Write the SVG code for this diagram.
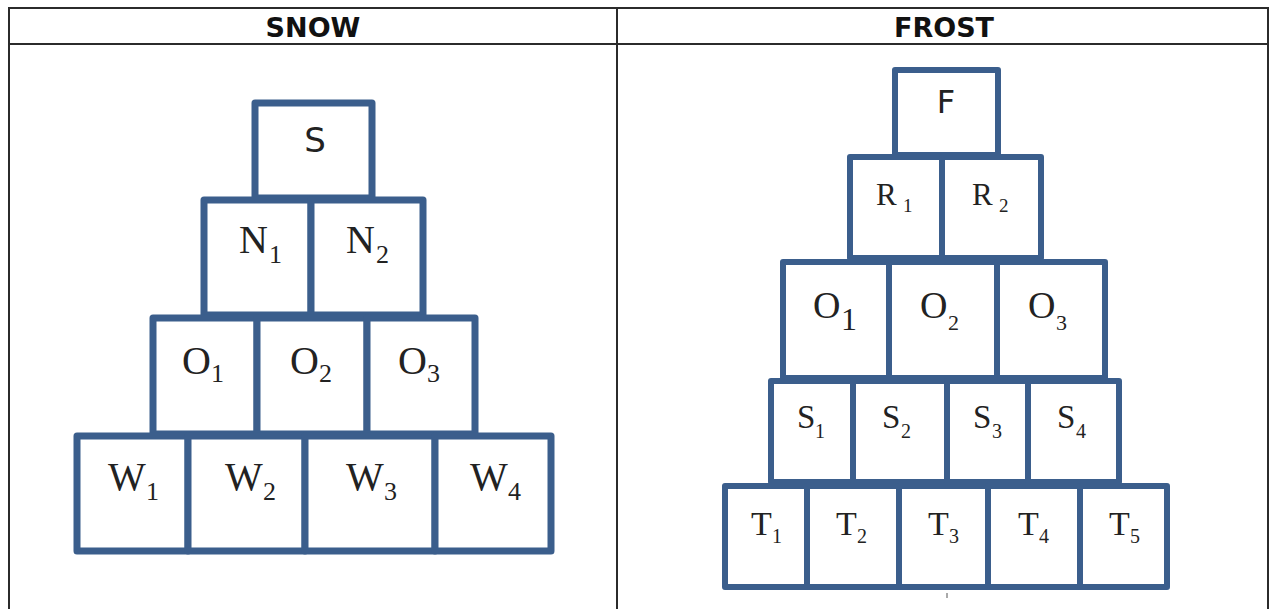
<svg xmlns="http://www.w3.org/2000/svg" width="1269" height="609" viewBox="0 0 1269 609">
<style>
.grid{stroke:#2b2b2b;stroke-width:2;fill:none}
.hdr{font-family:"DejaVu Sans",Verdana,sans-serif;font-weight:bold;font-size:27px;fill:#111;text-anchor:middle}
.bl rect{fill:#fff;stroke:#3b5e8c;stroke-width:7;stroke-linejoin:round}
.br rect{fill:#fff;stroke:#3b5e8c;stroke-width:6;stroke-linejoin:round}
.sans{font-family:"DejaVu Sans",Verdana,sans-serif;fill:#222;text-anchor:middle}
.ser{font-family:"Liberation Serif","Times New Roman",serif;fill:#222}
.L{font-size:40px}
.Ls{font-size:26px}
</style>
<rect width="1269" height="609" fill="#fff"/>
<g id="table">
<line class="grid" x1="9" y1="8" x2="1269" y2="8"/>
<line class="grid" x1="9" y1="44" x2="1269" y2="44"/>
<line class="grid" x1="9" y1="7" x2="9" y2="609"/>
<line class="grid" x1="617" y1="7" x2="617" y2="609"/>
<line class="grid" x1="1268" y1="7" x2="1268" y2="609"/>
<text class="hdr" x="313" y="37">SNOW</text>
<text class="hdr" x="944" y="37">FROST</text>
</g>
<g id="snow" class="bl">
<g id="s-S"><rect x="255" y="103" width="117" height="95"/><text class="sans" x="315" y="152" font-size="34">S</text></g>
<g id="s-N1"><rect x="204" y="200" width="107" height="115"/><text class="ser L" x="239" y="253">N<tspan class="Ls" x="269" y="263">1</tspan></text></g>
<g id="s-N2"><rect x="311" y="200" width="112" height="115"/><text class="ser L" x="346" y="253">N<tspan class="Ls" x="376" y="263">2</tspan></text></g>
<g id="s-O1"><rect x="153" y="318" width="104" height="116"/><text class="ser L" x="182" y="374">O<tspan class="Ls" x="211" y="382">1</tspan></text></g>
<g id="s-O2"><rect x="257" y="318" width="110" height="116"/><text class="ser L" x="290" y="374">O<tspan class="Ls" x="319" y="382">2</tspan></text></g>
<g id="s-O3"><rect x="367" y="318" width="108" height="116"/><text class="ser L" x="398" y="374">O<tspan class="Ls" x="427" y="382">3</tspan></text></g>
<g id="s-W1"><rect x="77" y="436" width="111" height="115"/><text class="ser L" x="108" y="490">W<tspan class="Ls" x="146" y="500">1</tspan></text></g>
<g id="s-W2"><rect x="188" y="436" width="117" height="115"/><text class="ser L" x="225" y="490">W<tspan class="Ls" x="263" y="500">2</tspan></text></g>
<g id="s-W3"><rect x="305" y="436" width="130" height="115"/><text class="ser L" x="346" y="490">W<tspan class="Ls" x="384" y="500">3</tspan></text></g>
<g id="s-W4"><rect x="435" y="436" width="116" height="115"/><text class="ser L" x="470" y="490">W<tspan class="Ls" x="508" y="500">4</tspan></text></g>
</g>
<g id="frost" class="br">
<g id="f-F"><rect x="895" y="70" width="103" height="85"/><text class="sans" x="946" y="113" font-size="32">F</text></g>
<g id="f-R1"><rect x="850" y="157" width="92" height="101"/><text class="ser" font-size="31" x="876" y="205">R<tspan font-size="19" x="903" y="212">1</tspan></text></g>
<g id="f-R2"><rect x="942" y="157" width="99" height="101"/><text class="ser" font-size="31" x="972" y="205">R<tspan font-size="19" x="999" y="212">2</tspan></text></g>
<g id="f-O1"><rect x="783" y="262" width="106" height="116"/><text class="ser" font-size="38" x="813" y="318">O<tspan font-size="32" x="841" y="330">1</tspan></text></g>
<g id="f-O2"><rect x="889" y="262" width="108" height="116"/><text class="ser" font-size="38" x="920" y="318">O<tspan font-size="22" x="948" y="330">2</tspan></text></g>
<g id="f-O3"><rect x="997" y="262" width="108" height="116"/><text class="ser" font-size="38" x="1028" y="318">O<tspan font-size="22" x="1056" y="330">3</tspan></text></g>
<g id="f-S1"><rect x="771" y="381" width="82" height="101"/><text class="ser" font-size="33" x="797" y="428">S<tspan font-size="20" x="815" y="438">1</tspan></text></g>
<g id="f-S2"><rect x="853" y="381" width="94" height="101"/><text class="ser" font-size="33" x="882" y="428">S<tspan font-size="20" x="901" y="438">2</tspan></text></g>
<g id="f-S3"><rect x="947" y="381" width="81" height="101"/><text class="ser" font-size="33" x="973" y="428">S<tspan font-size="20" x="992" y="438">3</tspan></text></g>
<g id="f-S4"><rect x="1028" y="381" width="91" height="101"/><text class="ser" font-size="33" x="1057" y="428">S<tspan font-size="20" x="1076" y="438">4</tspan></text></g>
<g id="f-T1"><rect x="725" y="486" width="82" height="101"/><text class="ser" font-size="34" x="751" y="535">T<tspan font-size="20" x="772" y="543">1</tspan></text></g>
<g id="f-T2"><rect x="807" y="486" width="92" height="101"/><text class="ser" font-size="34" x="836" y="535">T<tspan font-size="20" x="857" y="543">2</tspan></text></g>
<g id="f-T3"><rect x="899" y="486" width="89" height="101"/><text class="ser" font-size="34" x="928" y="535">T<tspan font-size="20" x="949" y="543">3</tspan></text></g>
<g id="f-T4"><rect x="988" y="486" width="92" height="101"/><text class="ser" font-size="34" x="1018" y="535">T<tspan font-size="20" x="1039" y="543">4</tspan></text></g>
<g id="f-T5"><rect x="1080" y="486" width="87" height="101"/><text class="ser" font-size="34" x="1109" y="535">T<tspan font-size="20" x="1130" y="543">5</tspan></text></g>
</g>
<line x1="947" y1="593" x2="947" y2="598" stroke="#555" stroke-width="1"/>
<g id="connectors"/>
</svg>
